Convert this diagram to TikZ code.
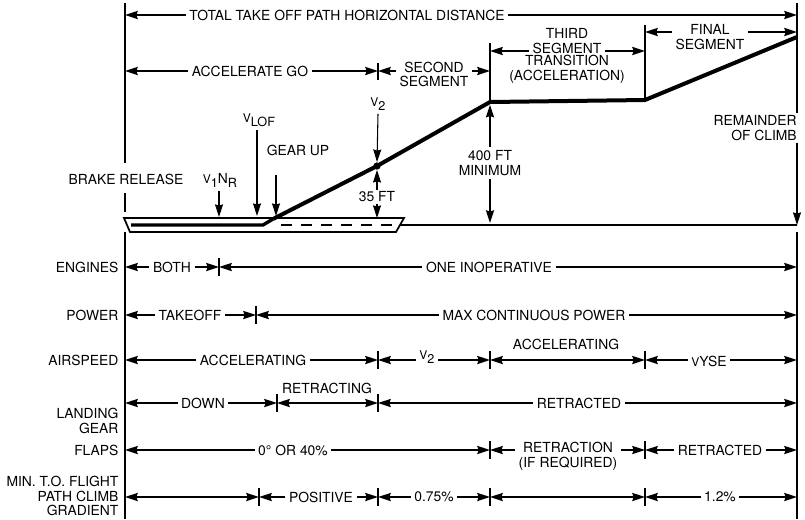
\documentclass[tikz,border=0pt]{standalone}
\usepackage{fontspec}
\setmainfont{TeX Gyre Heros}
\usetikzlibrary{arrows.meta,calc}
\newcommand{\lblfont}{\fontsize{10.4}{11}\selectfont}
\newcommand{\smallv}{{\fontsize{9}{10}\selectfont V}}
\newcommand{\lowsub}[1]{\raisebox{-3pt}{\fontsize{9.5}{10}\selectfont #1}}
\newcommand{\twoway}[4]{%
  \draw[dim] (#1.west |- #4) -- (#2 |- #4);
  \draw[dim] (#1.east |- #4) -- (#3 |- #4);}

\begin{document}
\begin{tikzpicture}[x=0.75pt,y=-0.75pt,
  every node/.style={font=\lblfont,inner sep=2.5pt,align=center},
  dim/.style={line width=1.5pt,-{Stealth[length=9.5pt,width=6pt,inset=1pt]}},
  dimboth/.style={line width=1.5pt,{Stealth[length=9.5pt,width=6pt,inset=1pt]}-{Stealth[length=9.5pt,width=6pt,inset=1pt]}},
  ptr/.style={line width=0.8pt,-{Stealth[length=9.5pt,width=6pt,inset=1pt]}},
  bnd/.style={line width=0.8pt},
  flight/.style={line width=3pt,line join=round},
  rowlbl/.style={anchor=east,align=right}]
\useasboundingbox (0,0) rectangle (805,519);

% breaks along the path
\coordinate (xL) at (125,0);
\coordinate (xR) at (797,0);
\coordinate (xeng) at (219,0);
\coordinate (xpow) at (256,0);
\coordinate (xgear) at (277,0);
\coordinate (xgrad) at (259,0);
\coordinate (xv) at (378,0);
\coordinate (xs) at (490,0);
\coordinate (xf) at (645,0);
% rows
\coordinate (rTot) at (0,15);
\coordinate (rFin) at (0,32);
\coordinate (rThr) at (0,51);
\coordinate (rAcc) at (0,71);
\coordinate (rEng) at (0,267);
\coordinate (rPow) at (0,315);
\coordinate (rAir) at (0,360);
\coordinate (rGear) at (0,403);
\coordinate (rFlap) at (0,450);
\coordinate (rGrad) at (0,497);

% runway and flight path
\coordinate (gu) at (273,219);
\coordinate (k1) at (490,102);
\coordinate (k2) at (645,100);
\coordinate (top) at (797,37);
\coordinate (g1) at (400,225);
\coordinate (g2) at (797,225);
\node[circle,fill,inner sep=0pt,minimum size=5.5pt] (dot) at (377,166) {};

\draw[line width=1.3pt] (124,218) -- (404,218) -- (396,232) -- (130,232) -- cycle;
\draw[line width=2.5pt] (131,225) -- (263,225) -- (gu);
\draw[line width=1.5pt,dash pattern=on 8pt off 7pt] (281,225) -- (392,225);
\draw[line width=2pt] (g1) -- (g2);
\draw[flight] (gu) -- (dot.center) -- (k1) -- (k2) -- (top);

% frame lines
\draw[bnd] (125,3) -- (125,163);
\draw[bnd] (125,193) -- (125,212);
\draw[bnd] (125,232) -- (125,519);
\node[anchor=east,align=right,inner sep=1.5pt] (rem) at (799,128) {REMAINDER\\OF CLIMB};
\draw[bnd] (797,3) -- (rem.north -| xR);
\draw[ptr] (rem.south -| xR) -- (g2);
\draw[bnd] (797,232) -- (797,519);
\draw[bnd] (378,63) -- (378,80);
\draw[bnd] (490,43) -- (k1);
\draw[bnd] (645,25) -- (k2);

% segments above
\node (tot) at (347,15) {TOTAL TAKE OFF PATH HORIZONTAL DISTANCE};
\twoway{tot}{xL}{xR}{rTot}
\node (accgo) at (250,71) {ACCELERATE GO};
\twoway{accgo}{xL}{xv}{rAcc}
\node (second) at (434,74.5) {SECOND\\SEGMENT};
\twoway{second}{xv}{xs}{rAcc}
\node (third) at (567,41) {THIRD\\SEGMENT};
\node (trans) at (567,69) {TRANSITION\\(ACCELERATION)};
\twoway{third}{xs}{xf}{rThr}
\node (final) at (710,37) {FINAL\\SEGMENT};
\twoway{final}{xf}{xR}{rFin}

% speeds and heights
\node (v2) at (378,104) {\smallv\lowsub{2}};
\draw[ptr] (v2.south) -- (dot.north);
\node[fill=white,inner sep=1pt] (ft35) at (377,197) {35 FT};
\draw[ptr] (ft35.north) -- (dot.south);
\draw[ptr] (ft35.south) -- (377,218);
\node (ft400) at (490,163) {400 FT\\MINIMUM};
\draw[dim,shorten >=2pt] (ft400.north) -- (k1);
\draw[dim,shorten >=1.5pt] (ft400.south) -- (xs |- g1);
\node (vlof) at (259,120) {\smallv\lowsub{LOF}};
\coordinate (lof) at (257,216);
\draw[ptr] (vlof.south -| lof) -- (lof);
\node (gear) at (298,150) {GEAR UP};
\coordinate (gup) at (276,216);
\draw[ptr,shorten <=12pt] (gear.south -| gup) -- (gup);
\node (v1nr) at (220,180) {\smallv\lowsub{1}N\lowsub{R}};
\coordinate (v1) at (219,217);
\draw[ptr] (v1nr.south -| v1) -- (v1);
\node (brake) at (126,179) {BRAKE RELEASE};

% row labels
\node[rowlbl] (eng) at (122,267) {ENGINES};
\node[rowlbl] (pow) at (122,315) {POWER};
\node[rowlbl] (air) at (122,360) {AIRSPEED};
\node[rowlbl] (lg) at (122,421) {LANDING\\GEAR};
\node[rowlbl] (flp) at (122,450) {FLAPS};
\node[rowlbl] (grad) at (122,496) {MIN. T.O. FLIGHT\\PATH CLIMB\\GRADIENT};

\foreach \x/\y in {219/267,256/315,378/360,490/360,645/360,277/403,378/403,
                   490/450,645/450,259/497,378/497,490/497,645/497}
  \draw[bnd] (\x,\y-9) -- (\x,\y+9);

% engines
\node (both) at (172,267) {BOTH};
\twoway{both}{xL}{xeng}{rEng}
\node (oneinop) at (489,267) {ONE INOPERATIVE};
\twoway{oneinop}{xeng}{xR}{rEng}
% power
\node (takeoff) at (190,315) {TAKEOFF};
\twoway{takeoff}{xL}{xpow}{rPow}
\node (maxcont) at (534,315) {MAX CONTINUOUS POWER};
\twoway{maxcont}{xpow}{xR}{rPow}
% airspeed
\node (accel) at (253,360) {ACCELERATING};
\twoway{accel}{xL}{xv}{rAir}
\node (v2air) at (427,357) {\smallv\lowsub{2}};
\twoway{v2air}{xv}{xs}{rAir}
\node (accel2) at (566,344) {ACCELERATING};
\draw[dimboth] (xs |- rAir) -- (xf |- rAir);
\node (vyse) at (709,361) {\smallv YSE};
\twoway{vyse}{xf}{xR}{rAir}
% landing gear
\node (down) at (203,403) {DOWN};
\twoway{down}{xL}{xgear}{rGear}
\node (retracting) at (327,388) {RETRACTING};
\draw[dimboth] (xgear |- rGear) -- (xv |- rGear);
\node (retracted) at (579,403) {RETRACTED};
\twoway{retracted}{xv}{xR}{rGear}
% flaps
\node (flapsval) at (293,450) {0° OR 40\%};
\twoway{flapsval}{xL}{xs}{rFlap}
\node (retraction) at (568,456.5) {RETRACTION\\(IF REQUIRED)};
\twoway{retraction}{xs}{xf}{rFlap}
\node (flapsret) at (720,450) {RETRACTED};
\twoway{flapsret}{xf}{xR}{rFlap}
% climb gradient
\draw[dimboth] (xL |- rGrad) -- (xgrad |- rGrad);
\node (positive) at (321,497) {POSITIVE};
\twoway{positive}{xgrad}{xv}{rGrad}
\node (grad075) at (434,497) {0.75\%};
\twoway{grad075}{xv}{xs}{rGrad}
\draw[dimboth] (xs |- rGrad) -- (xf |- rGrad);
\node (grad12) at (720,497) {1.2\%};
\twoway{grad12}{xf}{xR}{rGrad}
\end{tikzpicture}
\end{document}
